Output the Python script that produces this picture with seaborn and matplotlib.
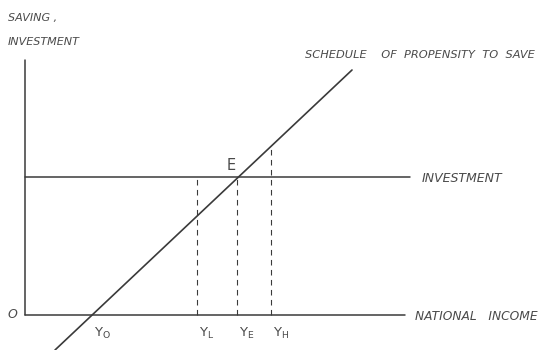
import matplotlib
matplotlib.use("Agg")
import matplotlib.pyplot as plt
import seaborn as sns
import pandas as pd

# Economic quantities (units measured from origin O)
income_levels = {"Y0": 67, "YL": 172, "YE": 212, "YH": 246}
investment_level = 138
income_axis_end = 380
saving_income = [30, 327]      # schedule of propensity to save (endpoints)
saving_values = [-35, 245]
vertical_axis_top = 255

tick_labels = [r"$\mathregular{Y_O}$", r"$\mathregular{Y_L}$", r"$\mathregular{Y_E}$", r"$\mathregular{Y_H}$"]

sns.set_style("white")
plt.rcParams["font.family"] = ["DejaVu Sans"]

fig = plt.figure(figsize=(5.52, 3.5), dpi=100)
ax = fig.add_axes([0, 0, 1, 1])
ax.set_xlim(-25, 527)
ax.set_ylim(-35, 315)
ax.axis("off")

ink = "#3a3a3a"
text_ink = "#4a4a4a"

# axes of the diagram
ax.plot([0, 0], [0, vertical_axis_top], color=ink, lw=1.1)
ax.plot([0, income_axis_end], [0, 0], color=ink, lw=1.1)
# investment line
ax.plot([0, income_axis_end + 5], [investment_level, investment_level], color=ink, lw=1.1)

# saving schedule
df = pd.DataFrame({"income": saving_income, "saving": saving_values})
sns.lineplot(data=df, x="income", y="saving", ax=ax, color=ink, lw=1.2)

slope = (saving_values[1] - saving_values[0]) / (saving_income[1] - saving_income[0])
def saving_at(y):
    return saving_values[0] + slope * (y - saving_income[0])

# dashed verticals
for key in ["YL", "YE", "YH"]:
    y = income_levels[key]
    top = investment_level if key != "YH" else saving_at(y)
    ax.plot([y, y], [0, top], color=ink, lw=0.8, ls=(0, (5, 4)))

# labels
ax.set_xlabel(""); ax.set_ylabel("")
for key, lab in zip(["Y0", "YL", "YE", "YH"], tick_labels):
    ax.text(income_levels[key] + 2, -18, lab, fontsize=9.5, color=text_ink, ha="left", va="center")
ax.text(-17, 0, "O", fontsize=9, color=text_ink, ha="left", va="center", style="italic")
ax.text(income_levels["YE"] - 6, investment_level + 12, "E", fontsize=10.5, color=text_ink, ha="center", va="center")
ax.text(397, investment_level - 1, "INVESTMENT", fontsize=9, color=text_ink, style="italic", ha="left", va="center")
ax.text(390, -2, "NATIONAL   INCOME", fontsize=8.8, color=text_ink, style="italic", ha="left", va="center")
ax.text(280, 260, "SCHEDULE    OF  PROPENSITY  TO  SAVE", fontsize=8.2, color=text_ink, style="italic", ha="left", va="center")
ax.text(-17, 297, "SAVING ,", fontsize=8, color=text_ink, style="italic", ha="left", va="center")
ax.text(-17, 273, "INVESTMENT", fontsize=8, color=text_ink, style="italic", ha="left", va="center")

fig.savefig("out.png", dpi=100, facecolor="white")
